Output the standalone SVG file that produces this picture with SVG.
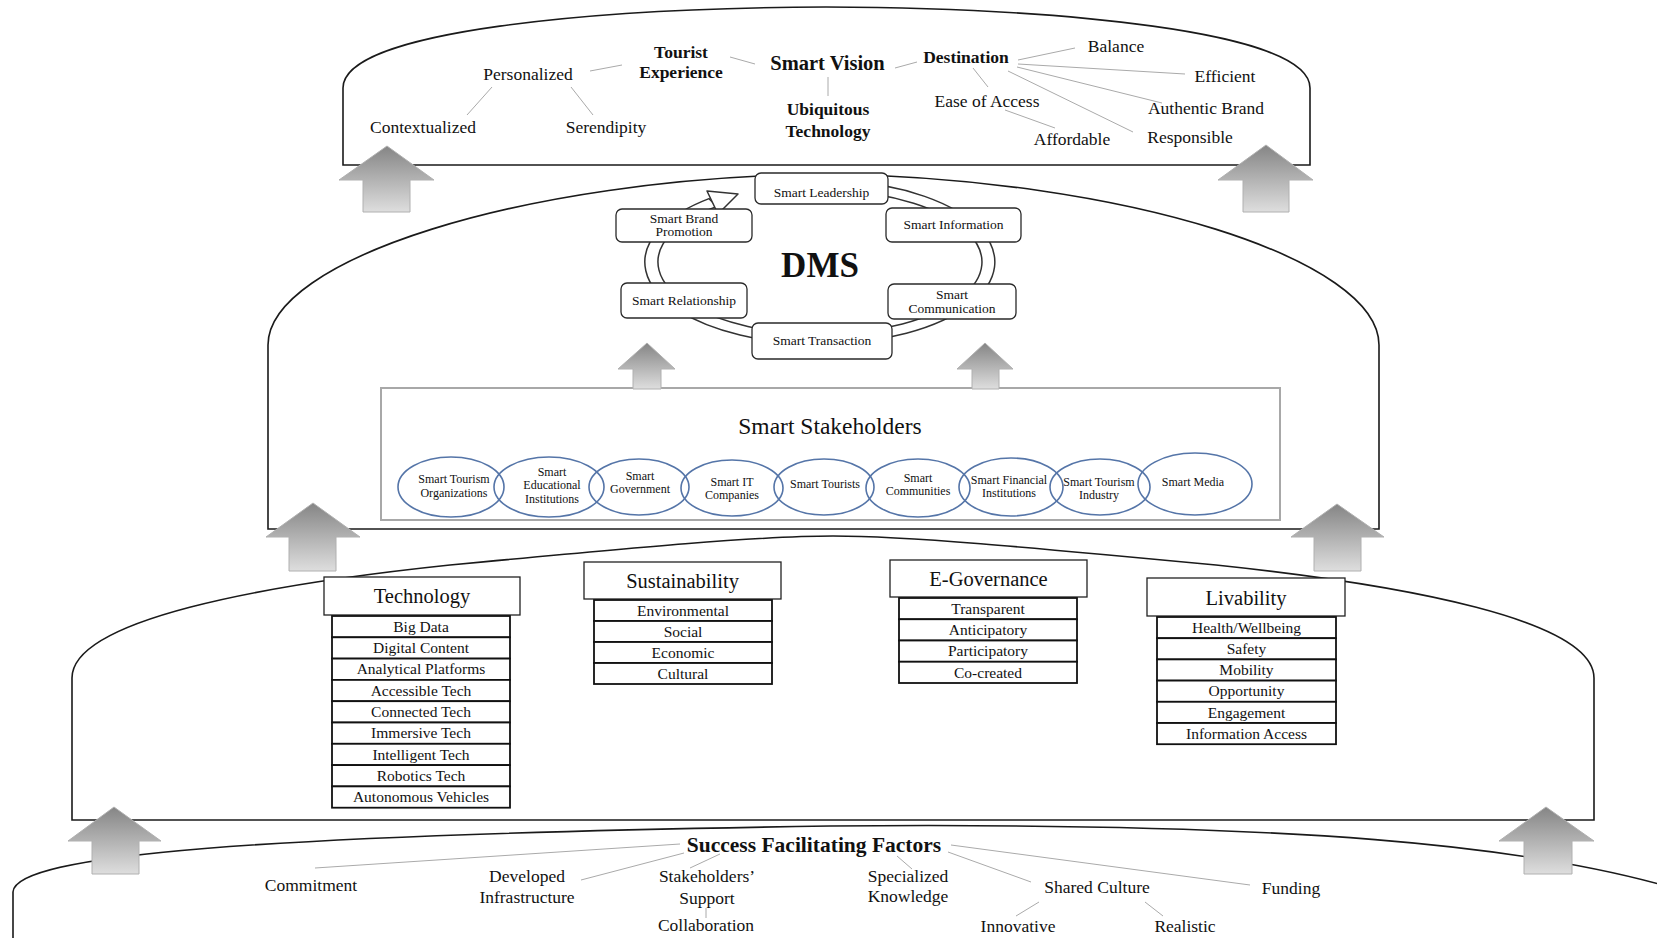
<svg xmlns="http://www.w3.org/2000/svg" width="1657" height="938" viewBox="0 0 1657 938">
<defs>
<linearGradient id="g" x1="0" y1="0" x2="0" y2="1">
<stop offset="0" stop-color="#858585"/>
<stop offset="1" stop-color="#dedede"/>
</linearGradient>
<style>
.dome{fill:#fff;stroke:#1a1a1a;stroke-width:1.6}
.t{font-family:"Liberation Serif","Times New Roman",serif;fill:#111;text-anchor:middle}
.b{font-weight:bold}
.lnk{stroke:#aaa;stroke-width:1;fill:none}
.arr{fill:url(#g);stroke:#b0b0b0;stroke-width:1}
.box{fill:#fff;stroke:#2a2a2a;stroke-width:1.3}
.row{fill:#fff;stroke:#111;stroke-width:1.8}
.hdr{fill:#fff;stroke:#222;stroke-width:1.3}
.sh{fill:none;stroke:#5575a8;stroke-width:1.6}
.f17{font-size:17.5px}
.f13{font-size:13.5px}
.f12{font-size:12px}
.f15{font-size:15.5px}
.f20{font-size:20.5px}
</style>
</defs>
<rect width="1657" height="938" fill="#fff"/>

<!-- domes -->
<g id="dome-vision">
<path class="dome" d="M343,165 V88 C343,30 600,8 826,7 C1052,8 1310,30 1310,88 V165 Z"/>
</g>
<g id="dome-dms">
<path class="dome" d="M268,529 V345 C268,260 520,178 824,174 C1128,178 1379,260 1379,345 V529 Z"/>
</g>
<g id="dome-pillars">
<path class="dome" d="M72,820 V678 C72,620 260,585 450,565 C640,547 760,536 833,536 C906,536 1026,547 1216,565 C1406,585 1594,620 1594,678 V820 Z"/>
</g>
<g id="dome-factors">
<path class="dome" d="M13,940 V892 C15,855 250,835 830,826 C1300,822 1530,845 1680,890 V940"/>
</g>

<!-- Smart Vision -->
<g id="vision">
<text class="t b" x="827.5" y="70" font-size="20.5">Smart Vision</text>
<text class="t b f17" x="681" y="58">Tourist</text>
<text class="t b f17" x="681" y="78">Experience</text>
<text class="t b f17" x="966" y="63">Destination</text>
<text class="t b f17" x="828" y="115">Ubiquitous</text>
<text class="t b f17" x="828" y="137">Technology</text>
<text class="t f17" x="528" y="80">Personalized</text>
<text class="t f17" x="423" y="132.5">Contextualized</text>
<text class="t f17" x="606" y="133">Serendipity</text>
<text class="t f17" x="1116" y="52">Balance</text>
<text class="t f17" x="1225" y="82">Efficient</text>
<text class="t f17" x="987" y="107">Ease of Access</text>
<text class="t f17" x="1206" y="114">Authentic Brand</text>
<text class="t f17" x="1072" y="145">Affordable</text>
<text class="t f17" x="1190" y="143">Responsible</text>
</g>

<!-- DMS -->
<g id="dms">
<path d="M760,185 A175,82 0 1 1 709,198.6 L717,206.4 A162,72 0 1 0 760,195.1 Z" fill="#fff" stroke="#333" stroke-width="1.5"/>
<path d="M707,191 L738,194 L718,214 Z" fill="#fff" stroke="#333" stroke-width="1.5" stroke-linejoin="round"/>
<text class="t b" x="820" y="277" font-size="35">DMS</text>
</g>
<g id="smart-leadership"><rect class="box" x="755" y="173" width="133" height="31" rx="6"/><text class="t f13" x="821.5" y="197">Smart Leadership</text></g>
<g id="smart-brand-promotion"><rect class="box" x="616" y="209" width="136" height="33" rx="6"/><text class="t f13" x="684" y="223">Smart Brand</text><text class="t f13" x="684" y="236">Promotion</text></g>
<g id="smart-information"><rect class="box" x="886" y="208" width="135" height="34" rx="6"/><text class="t f13" x="953.5" y="229">Smart Information</text></g>
<g id="smart-relationship"><rect class="box" x="621" y="283" width="126" height="35" rx="6"/><text class="t f13" x="684" y="305">Smart Relationship</text></g>
<g id="smart-communication"><rect class="box" x="888" y="284" width="128" height="35" rx="6"/><text class="t f13" x="952" y="299">Smart</text><text class="t f13" x="952" y="313">Communication</text></g>
<g id="smart-transaction"><rect class="box" x="752" y="323" width="140" height="36" rx="6"/><text class="t f13" x="822" y="345">Smart Transaction</text></g>

<!-- Stakeholders -->
<g id="stakeholders">
<rect x="381" y="388" width="899" height="132" fill="#fff" stroke="#a8a8a8" stroke-width="2"/>
<text class="t" x="830" y="434" font-size="23.5">Smart Stakeholders</text>
</g>
<g id="sh-sto"><ellipse class="sh" cx="451" cy="487" rx="53" ry="30"/><text class="t f12" x="454" y="483">Smart Tourism</text><text class="t f12" x="454" y="497">Organizations</text></g>
<g id="sh-sei"><ellipse class="sh" cx="549" cy="487" rx="55" ry="30"/><text class="t f12" x="552" y="476">Smart</text><text class="t f12" x="552" y="489">Educational</text><text class="t f12" x="552" y="503">Institutions</text></g>
<g id="sh-sg"><ellipse class="sh" cx="639" cy="487" rx="50" ry="28"/><text class="t f12" x="640" y="480">Smart</text><text class="t f12" x="640" y="493">Government</text></g>
<g id="sh-sit"><ellipse class="sh" cx="732" cy="488" rx="51" ry="28"/><text class="t f12" x="732" y="486">Smart IT</text><text class="t f12" x="732" y="499">Companies</text></g>
<g id="sh-st"><ellipse class="sh" cx="824" cy="487" rx="50" ry="28"/><text class="t f12" x="825" y="488">Smart Tourists</text></g>
<g id="sh-sc"><ellipse class="sh" cx="918" cy="488" rx="52" ry="29"/><text class="t f12" x="918" y="482">Smart</text><text class="t f12" x="918" y="495">Communities</text></g>
<g id="sh-sfi"><ellipse class="sh" cx="1011" cy="487" rx="52" ry="29"/><text class="t f12" x="1009" y="484">Smart Financial</text><text class="t f12" x="1009" y="497">Institutions</text></g>
<g id="sh-sti"><ellipse class="sh" cx="1100" cy="487" rx="50" ry="28"/><text class="t f12" x="1099" y="486">Smart Tourism</text><text class="t f12" x="1099" y="499">Industry</text></g>
<g id="sh-sm"><ellipse class="sh" cx="1195" cy="484" rx="57" ry="31"/><text class="t f12" x="1193" y="486">Smart Media</text></g>

<!-- Pillars -->
<g id="technology">
<rect class="hdr" x="324" y="577" width="196" height="38"/>
<text class="t f20" x="422" y="603">Technology</text>
<rect class="row" x="332" y="616" width="178" height="21.3"/><text class="t f15" x="421" y="631.8">Big Data</text>
<rect class="row" x="332" y="637.3" width="178" height="21.3"/><text class="t f15" x="421" y="653.1">Digital Content</text>
<rect class="row" x="332" y="658.6" width="178" height="21.3"/><text class="t f15" x="421" y="674.4">Analytical Platforms</text>
<rect class="row" x="332" y="679.9" width="178" height="21.3"/><text class="t f15" x="421" y="695.7">Accessible Tech</text>
<rect class="row" x="332" y="701.2" width="178" height="21.3"/><text class="t f15" x="421" y="717">Connected Tech</text>
<rect class="row" x="332" y="722.5" width="178" height="21.3"/><text class="t f15" x="421" y="738.3">Immersive Tech</text>
<rect class="row" x="332" y="743.8" width="178" height="21.3"/><text class="t f15" x="421" y="759.6">Intelligent Tech</text>
<rect class="row" x="332" y="765.1" width="178" height="21.3"/><text class="t f15" x="421" y="780.9">Robotics Tech</text>
<rect class="row" x="332" y="786.4" width="178" height="21.3"/><text class="t f15" x="421" y="802.2">Autonomous Vehicles</text>
</g>
<g id="sustainability">
<rect class="hdr" x="584" y="562" width="197" height="37"/>
<text class="t f20" x="682.5" y="588">Sustainability</text>
<rect class="row" x="594" y="600" width="178" height="21"/><text class="t f15" x="683" y="615.8">Environmental</text>
<rect class="row" x="594" y="621" width="178" height="21"/><text class="t f15" x="683" y="636.8">Social</text>
<rect class="row" x="594" y="642" width="178" height="21"/><text class="t f15" x="683" y="657.8">Economic</text>
<rect class="row" x="594" y="663" width="178" height="21"/><text class="t f15" x="683" y="678.8">Cultural</text>
</g>
<g id="e-governance">
<rect class="hdr" x="890" y="560" width="197" height="37"/>
<text class="t f20" x="988.5" y="586">E-Governance</text>
<rect class="row" x="899" y="598" width="178" height="21.25"/><text class="t f15" x="988" y="613.8">Transparent</text>
<rect class="row" x="899" y="619.25" width="178" height="21.25"/><text class="t f15" x="988" y="635">Anticipatory</text>
<rect class="row" x="899" y="640.5" width="178" height="21.25"/><text class="t f15" x="988" y="656.3">Participatory</text>
<rect class="row" x="899" y="661.75" width="178" height="21.25"/><text class="t f15" x="988" y="677.5">Co-created</text>
</g>
<g id="livability">
<rect class="hdr" x="1147" y="578" width="198" height="38"/>
<text class="t f20" x="1246" y="605">Livability</text>
<rect class="row" x="1157" y="617" width="179" height="21.2"/><text class="t f15" x="1246.5" y="632.8">Health/Wellbeing</text>
<rect class="row" x="1157" y="638.2" width="179" height="21.2"/><text class="t f15" x="1246.5" y="654">Safety</text>
<rect class="row" x="1157" y="659.4" width="179" height="21.2"/><text class="t f15" x="1246.5" y="675.2">Mobility</text>
<rect class="row" x="1157" y="680.6" width="179" height="21.2"/><text class="t f15" x="1246.5" y="696.4">Opportunity</text>
<rect class="row" x="1157" y="701.8" width="179" height="21.2"/><text class="t f15" x="1246.5" y="717.6">Engagement</text>
<rect class="row" x="1157" y="723" width="179" height="21.2"/><text class="t f15" x="1246.5" y="738.8">Information Access</text>
</g>

<!-- Success factors -->
<g id="factors">
<text class="t b" x="814" y="852" font-size="21.5">Success Facilitating Factors</text>
<text class="t f17" x="311" y="891">Commitment</text>
<text class="t f17" x="527" y="882">Developed</text>
<text class="t f17" x="527" y="903">Infrastructure</text>
<text class="t f17" x="707" y="882">Stakeholders’</text>
<text class="t f17" x="707" y="904">Support</text>
<text class="t f17" x="706" y="931">Collaboration</text>
<text class="t f17" x="908" y="882">Specialized</text>
<text class="t f17" x="908" y="902">Knowledge</text>
<text class="t f17" x="1097" y="893">Shared Culture</text>
<text class="t f17" x="1291" y="894">Funding</text>
<text class="t f17" x="1018" y="932">Innovative</text>
<text class="t f17" x="1185" y="932">Realistic</text>
</g>

<!-- connectors -->
<g id="connectors">
<line class="lnk" x1="590" y1="71" x2="622" y2="65"/>
<line class="lnk" x1="492" y1="87" x2="467" y2="115"/>
<line class="lnk" x1="571" y1="87" x2="593" y2="115"/>
<line class="lnk" x1="730" y1="57" x2="755" y2="64"/>
<line class="lnk" x1="828" y1="77" x2="828" y2="96"/>
<line class="lnk" x1="895" y1="68" x2="917" y2="62"/>
<line class="lnk" x1="1018" y1="60" x2="1075" y2="48"/>
<line class="lnk" x1="1018" y1="64" x2="1185" y2="74"/>
<line class="lnk" x1="1017" y1="67" x2="1162" y2="103"/>
<line class="lnk" x1="1008" y1="71" x2="1133" y2="132"/>
<line class="lnk" x1="973" y1="68" x2="988" y2="87"/>
<line class="lnk" x1="1005" y1="110" x2="1055" y2="128"/>
<line class="lnk" x1="315" y1="868" x2="680" y2="844"/>
<line class="lnk" x1="581" y1="880" x2="684" y2="853"/>
<line class="lnk" x1="690" y1="868" x2="720" y2="854"/>
<line class="lnk" x1="706" y1="908" x2="706" y2="918"/>
<line class="lnk" x1="897" y1="856" x2="912" y2="869"/>
<line class="lnk" x1="948" y1="852" x2="1031" y2="882"/>
<line class="lnk" x1="951" y1="845" x2="1250" y2="885"/>
<line class="lnk" x1="1039" y1="902" x2="1016" y2="916"/>
<line class="lnk" x1="1145" y1="902" x2="1163" y2="916"/>
<path class="arr" d="M387,146 L434,180 L410,180 L410,212 L363,212 L363,180 L339,180 Z"/>
<path class="arr" d="M1266,145 L1313,180 L1289,180 L1289,212 L1243,212 L1243,180 L1218,180 Z"/>
<path class="arr" d="M313,503 L360,537 L336,537 L336,571 L289,571 L289,537 L266,537 Z"/>
<path class="arr" d="M1337,504 L1384,537 L1361,537 L1361,571 L1314,571 L1314,537 L1291,537 Z"/>
<path class="arr" d="M114,807 L161,841 L139,841 L139,874 L92,874 L92,841 L68,841 Z"/>
<path class="arr" d="M1546,807 L1594,841 L1572,841 L1572,874 L1524,874 L1524,841 L1499,841 Z"/>
<path class="arr" d="M647,343 L675,369 L661,369 L661,389 L633,389 L633,369 L618,369 Z"/>
<path class="arr" d="M985,343 L1013,369 L999,369 L999,389 L972,389 L972,369 L957,369 Z"/>
</g>
</svg>
